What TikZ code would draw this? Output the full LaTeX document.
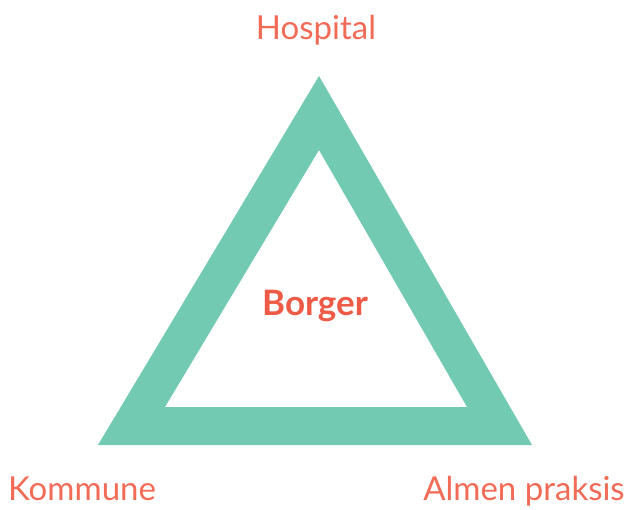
\documentclass[tikz,border=0pt]{standalone}
\usepackage{fontspec}
\setmainfont{Lato}
\usepackage{tikz}
\definecolor{tri}{HTML}{72CAB3}
\definecolor{lbl}{HTML}{F26B57}
\definecolor{mid}{HTML}{EE5A45}

\begin{document}
\begin{tikzpicture}[x=1pt,y=-1pt,
  place/.style={text=lbl,anchor=base,inner sep=0pt,font=\fontsize{33}{40}\selectfont}]
  \useasboundingbox (0,0) rectangle (629,510);
  \fill[tri,even odd rule] (319,76)--(98,445)--(532,445)--cycle
    (319,150)--(165,407)--(467,407)--cycle;
  \node[place] (hosp) at (316,40) {Hospital};
  \node[place,text=mid,font=\fontsize{35}{42}\selectfont\bfseries] (borger) at (315,316) {Borger};
  \node[place] (komm) at (82,500) {Kommune};
  \node[place] (almen) at (524,500) {Almen praksis};
\end{tikzpicture}
\end{document}
